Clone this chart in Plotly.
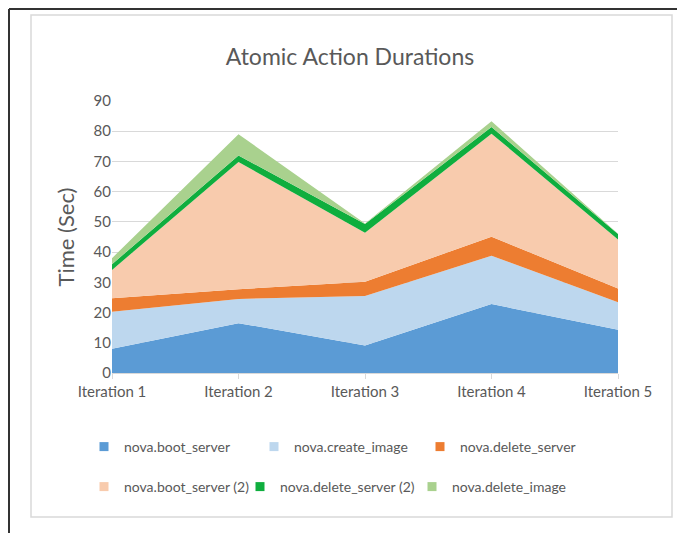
import plotly.graph_objects as go

# ---- data ----
iterations = ["Iteration 1", "Iteration 2", "Iteration 3", "Iteration 4", "Iteration 5"]
boot_server = [8.0, 16.5, 9.1, 22.8, 14.3]
create_image = [12.3, 8.0, 16.4, 16.0, 9.1]
delete_server = [4.4, 3.2, 4.7, 6.3, 4.6]
boot_server_2 = [9.4, 42.1, 16.2, 34.1, 16.2]
delete_server_2 = [1.9, 2.2, 2.9, 2.2, 1.8]
delete_image = [2.0, 7.0, 0.2, 1.9, 0.1]
y_ticks = [0, 10, 20, 30, 40, 50, 60, 70, 80, 90]

series = [
    ("nova.boot_server", boot_server, "#5b9bd5"),
    ("nova.create_image", create_image, "#bdd7ee"),
    ("nova.delete_server", delete_server, "#ed7d31"),
    ("nova.boot_server (2)", boot_server_2, "#f8cbad"),
    ("nova.delete_server (2)", delete_server_2, "#0fae3e"),
    ("nova.delete_image", delete_image, "#a9d18e"),
]

OFF = 8  # page body margin
W, H = 685 - OFF, 533 - OFF
# plot area in page pixels
PL, PR, PT, PB = 112, 618, 101, 373


def px(x):
    return (x - PL) / (PR - PL)


def py(y):
    return (PB - y) / (PB - PT)


FONT = "Lato, 'Open Sans', sans-serif"
GREY = "#595959"

fig = go.Figure()
xs = list(range(len(iterations)))
for name, vals, col in series:
    fig.add_trace(go.Scatter(
        x=xs, y=vals, name=name, stackgroup="one", mode="lines",
        line=dict(width=0, color=col), fillcolor=col, showlegend=False,
    ))

# legend entries (one legend per entry for exact placement), page coords of marker
legend_pos = [(110, 447), (280, 447), (446, 447), (110, 487), (266, 487), (438, 487)]
layout_legends = {}
for i, ((name, vals, col), (lx, ly)) in enumerate(zip(series, legend_pos)):
    key = "legend" if i == 0 else f"legend{i+1}"
    fig.add_trace(go.Scatter(
        x=[None], y=[None], mode="markers", name=name,
        marker=dict(symbol="square", size=9, color=col),
        legend=key, showlegend=True,
    ))
    layout_legends[key] = dict(
        x=px(lx - 26), y=py(ly), xanchor="left", yanchor="middle",
        orientation="h", bgcolor="rgba(0,0,0,0)",
        font=dict(family=FONT, size=14, color=GREY),
        itemwidth=30,
    )

shapes = [
    # outer dark frame (top & left edges)
    dict(type="line", xref="paper", yref="paper", x0=px(9), x1=px(W + OFF + 5), y0=py(OFF + 1), y1=py(OFF + 1),
         line=dict(color="#333333", width=2)),
    dict(type="line", xref="paper", yref="paper", x0=px(9), x1=px(9), y0=py(OFF + 1), y1=py(H + OFF + 5),
         line=dict(color="#333333", width=2)),
    # inner chart border
    dict(type="rect", xref="paper", yref="paper", x0=px(31), x1=px(672), y0=py(517), y1=py(15),
         line=dict(color="#d9d9d9", width=1.5), fillcolor="rgba(0,0,0,0)", layer="below"),
]

fig.update_layout(
    width=W, height=H, autosize=False,
    margin=dict(l=PL - OFF, r=W + OFF - PR, t=PT - OFF, b=H + OFF - PB),
    paper_bgcolor="white", plot_bgcolor="white",
    title=dict(text="Atomic Action Durations", x=(350 - OFF) / W, xanchor="center",
               y=1 - (57 - OFF) / H, yanchor="middle", yref="container",
               font=dict(family=FONT, size=23, color=GREY)),
    xaxis=dict(range=[0, len(iterations) - 1], tickvals=xs, ticktext=iterations,
               showgrid=False, zeroline=False, showline=True, linecolor="#d9d9d9", linewidth=1,
               ticks="outside", ticklen=5, tickcolor="#d9d9d9",
               tickfont=dict(family=FONT, size=15, color=GREY)),
    yaxis=dict(range=[0, 90], tickvals=y_ticks, showgrid=True, gridcolor="#d9d9d9", gridwidth=1,
               zeroline=False, showline=False, ticks="",
               tickfont=dict(family=FONT, size=15, color=GREY),
               title=dict(text="Time (Sec)", font=dict(family=FONT, size=22, color=GREY), standoff=12)),
    shapes=shapes,
    hovermode=False,
    **layout_legends,
)

fig.write_html("out.html")
